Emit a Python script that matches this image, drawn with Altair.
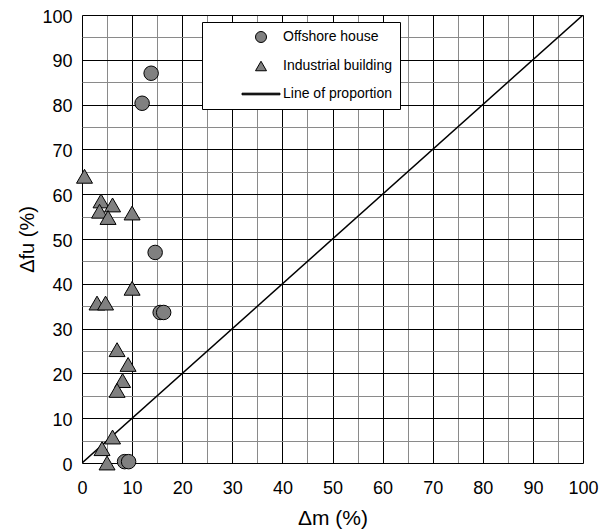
import altair as alt
import pandas as pd

# Offshore house (circles)
off_x = [13.8, 12.0, 14.6, 15.6, 16.3, 8.5, 9.3]
off_y = [87.0, 80.3, 47.0, 33.6, 33.6, 0.3, 0.3]

# Industrial building (triangles)
ind_x = [0.5, 3.8, 6.1, 3.5, 5.2, 10.0, 10.0, 3.0, 4.7, 7.0, 9.2, 8.1, 7.0, 6.1, 4.0, 5.0]
ind_y = [64.0, 58.5, 57.6, 56.2, 54.8, 55.8, 39.0, 35.7, 35.7, 25.3, 22.0, 18.4, 16.2, 5.8, 3.2, 0.0]

# Line of proportion
line_x = [0, 100]
line_y = [0, 100]

series = ["Offshore house", "Industrial building", "Line of proportion"]
ticks = list(range(0, 101, 5))

FONT = "Liberation Sans"

off_df = pd.DataFrame({"x": off_x, "y": off_y})
ind_df = pd.DataFrame({"x": ind_x, "y": ind_y})
line_df = pd.DataFrame({"x": line_x, "y": line_y})
leg_df = pd.DataFrame({"series": series})

grid_color = alt.condition("datum.value % 10 === 0", alt.value("#000000"), alt.value("#8a8a8a"))

xscale = alt.Scale(domain=[0, 100], nice=False)
yscale = alt.Scale(domain=[0, 100], nice=False)

xaxis = alt.Axis(values=ticks, title="Δm (%)", labelExpr="datum.value % 10 === 0 ? datum.label : ''",
                 ticks=False, domain=False, gridColor=grid_color, gridWidth=1, gridOpacity=1,
                 labelFlush=False, labelOverlap=False,
                 labelPadding=16, titlePadding=10, labelFontSize=18, titleFontSize=21,
                 labelColor="black", titleColor="black", titleFontWeight="normal",
                 labelFont=FONT, titleFont=FONT)
yaxis = alt.Axis(values=ticks, title="Δfu (%)", labelExpr="datum.value % 10 === 0 ? datum.label : ''",
                 ticks=False, domain=False, gridColor=grid_color, gridWidth=1, gridOpacity=1,
                 labelFlush=False, labelOverlap=False,
                 labelPadding=10, titlePadding=4, labelFontSize=18, titleFontSize=20, labelOffset=2,
                 labelColor="black", titleColor="black", titleFontWeight="normal",
                 labelFont=FONT, titleFont=FONT)

X = alt.X("x:Q", scale=xscale, axis=xaxis)
Y = alt.Y("y:Q", scale=yscale, axis=yaxis)

line = alt.Chart(line_df).mark_line(color="black", strokeWidth=1.5, clip=True).encode(x=X, y=Y)

tri = alt.Chart(ind_df).mark_point(shape="triangle-up", size=256, filled=True, fill="#808080",
                                   stroke="black", strokeWidth=1, opacity=1).encode(x=X, y=Y)

circ = alt.Chart(off_df).mark_point(shape="circle", size=210, filled=True, fill="#808080",
                                    stroke="black", strokeWidth=1, opacity=1).encode(x=X, y=Y)

legend = alt.Legend(title=None, orient="none", legendX=120, legendY=7, padding=8,
                    strokeColor="black", fillColor="white", labelFontSize=14, labelFont=FONT,
                    labelColor="black", symbolOffset=44, rowPadding=14, labelOffset=15,
                    symbolSize=121, symbolStrokeWidth=1)

# legend-only symbol shapes: circle, triangle and a long thin bar for the line
line_symbol = "M-3.45,-0.15H3.45V0.15H-3.45Z"

leg = alt.Chart(leg_df).transform_filter("false").mark_point(filled=True, opacity=1, size=121).encode(
    x=X, y=Y,
    shape=alt.Shape("series:N", scale=alt.Scale(domain=series, range=["circle", "triangle-up", line_symbol]),
                    legend=legend),
    fill=alt.Fill("series:N", scale=alt.Scale(domain=series, range=["#808080", "#808080", "#000000"]),
                  legend=legend),
    stroke=alt.Stroke("series:N", scale=alt.Scale(domain=series, range=["#000000", "#000000", "#000000"]),
                      legend=legend),
)

chart = alt.layer(line, tri, circ, leg).properties(
    width=501, height=448,
    autosize=alt.AutoSizeParams(type="none"),
    padding={"left": 74, "top": 7, "right": 16, "bottom": 68},
).configure_view(stroke="black", strokeWidth=2).configure(background="white")

chart.save("out.html", embed_options={"renderer": "svg", "actions": False})
